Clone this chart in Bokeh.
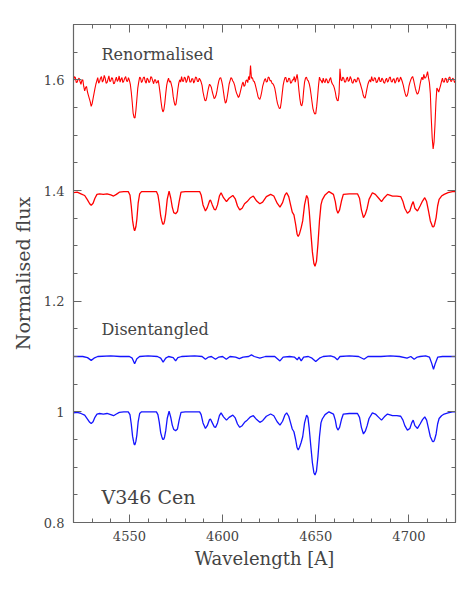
from bokeh.plotting import figure
from bokeh.models import LinearAxis, FixedTicker, CustomJSTickFormatter, Label, Range1d
from bokeh.embed import file_html
from bokeh.resources import INLINE

# ---------------- data ----------------
# renormalised secondary spectrum (offset to 1.6), 0.5 A sampling from 4520 A
top_start, top_step = 4520.0, 0.5
top_flux = [
    1.598, 1.606, 1.604, 1.595, 1.596, 1.601, 1.603, 1.597, 1.592, 1.599,
    1.600, 1.588, 1.580, 1.586, 1.588, 1.578, 1.572, 1.566, 1.560, 1.552,
    1.557, 1.566, 1.575, 1.584, 1.592, 1.598, 1.604, 1.594, 1.597, 1.603,
    1.606, 1.596, 1.599, 1.608, 1.603, 1.594, 1.595, 1.601, 1.607, 1.597,
    1.598, 1.604, 1.602, 1.593, 1.594, 1.600, 1.605, 1.597, 1.600, 1.607,
    1.596, 1.601, 1.604, 1.595, 1.598, 1.603, 1.606, 1.598, 1.597, 1.604,
    1.599, 1.592, 1.578, 1.560, 1.540, 1.532, 1.531, 1.545, 1.565, 1.585,
    1.596, 1.605, 1.603, 1.595, 1.598, 1.604, 1.605, 1.597, 1.594, 1.603,
    1.601, 1.595, 1.597, 1.606, 1.604, 1.598, 1.593, 1.600, 1.600, 1.594,
    1.596, 1.599, 1.588, 1.575, 1.560, 1.548, 1.542, 1.546, 1.558, 1.575,
    1.590, 1.598, 1.603, 1.596, 1.598, 1.592, 1.585, 1.570, 1.560, 1.554,
    1.556, 1.568, 1.583, 1.594, 1.600, 1.596, 1.606, 1.598, 1.597, 1.605,
    1.603, 1.595, 1.599, 1.607, 1.605, 1.596, 1.596, 1.602, 1.602, 1.594,
    1.598, 1.605, 1.604, 1.597, 1.597, 1.603, 1.600, 1.596, 1.590, 1.578,
    1.570, 1.563, 1.562, 1.568, 1.578, 1.586, 1.592, 1.590, 1.586, 1.578,
    1.572, 1.566, 1.568, 1.572, 1.580, 1.590, 1.598, 1.603, 1.604, 1.598,
    1.590, 1.578, 1.566, 1.558, 1.560, 1.569, 1.580, 1.592, 1.598, 1.604,
    1.602, 1.598, 1.595, 1.590, 1.582, 1.576, 1.572, 1.568, 1.571, 1.578,
    1.585, 1.592, 1.596, 1.588, 1.590, 1.598, 1.600, 1.595, 1.606, 1.600,
    1.626, 1.603, 1.604, 1.598, 1.597, 1.592, 1.585, 1.578, 1.570, 1.566,
    1.565, 1.570, 1.578, 1.588, 1.594, 1.600, 1.602, 1.596, 1.597, 1.605,
    1.604, 1.598, 1.599, 1.594, 1.593, 1.590, 1.585, 1.576, 1.565, 1.557,
    1.552, 1.548, 1.549, 1.560, 1.575, 1.590, 1.598, 1.604, 1.604, 1.596,
    1.597, 1.603, 1.602, 1.594, 1.595, 1.600, 1.600, 1.606, 1.596, 1.603,
    1.610, 1.598, 1.580, 1.565, 1.555, 1.553, 1.560, 1.580, 1.596, 1.603,
    1.605, 1.600, 1.598, 1.593, 1.585, 1.573, 1.560, 1.548, 1.542, 1.538,
    1.539, 1.552, 1.570, 1.590, 1.605, 1.600, 1.598, 1.594, 1.603, 1.597,
    1.595, 1.602, 1.600, 1.594, 1.596, 1.601, 1.604, 1.596, 1.592, 1.590,
    1.585, 1.578, 1.568, 1.563, 1.562, 1.575, 1.620, 1.600, 1.598, 1.605,
    1.603, 1.596, 1.596, 1.602, 1.605, 1.597, 1.599, 1.606, 1.602, 1.595,
    1.594, 1.600, 1.601, 1.596, 1.597, 1.604, 1.603, 1.597, 1.592, 1.586,
    1.580, 1.572, 1.568, 1.567, 1.575, 1.584, 1.592, 1.597, 1.600, 1.596,
    1.606, 1.599, 1.598, 1.604, 1.603, 1.595, 1.596, 1.601, 1.605, 1.597,
    1.597, 1.603, 1.601, 1.595, 1.594, 1.600, 1.603, 1.596, 1.598, 1.604,
    1.605, 1.597, 1.596, 1.601, 1.602, 1.594, 1.597, 1.603, 1.604, 1.596,
    1.599, 1.605, 1.601, 1.596, 1.590, 1.582, 1.575, 1.570, 1.571, 1.577,
    1.588, 1.595, 1.600, 1.604, 1.606, 1.600, 1.592, 1.584, 1.578, 1.574,
    1.576, 1.582, 1.592, 1.600, 1.605, 1.600, 1.610, 1.603, 1.604, 1.608,
    1.615, 1.604, 1.595, 1.575, 1.530, 1.495, 1.475, 1.488, 1.520, 1.560,
    1.585, 1.582, 1.578, 1.584, 1.590, 1.597, 1.603, 1.596, 1.596, 1.603,
    1.602, 1.595, 1.597, 1.604, 1.605, 1.597, 1.598, 1.603, 1.601, 1.595,
    1.598,
]
top_wl = [top_start + top_step * i for i in range(len(top_flux))]

# composite (renormalised, offset 1.4) and disentangled primary (at 1.0)
comp_wl = [
    4520, 4522, 4524, 4526, 4527.5, 4528.7, 4529.5, 4530.5, 4531.5, 4532.6,
    4534, 4536, 4538, 4540, 4541.5, 4543, 4544.6, 4547, 4549.4, 4550.3,
    4551, 4551.7, 4552.2, 4552.5, 4552.8, 4553.1, 4553.5, 4554, 4554.7, 4555.5,
    4556.5, 4560,
    4564.5, 4565.3, 4566, 4566.8, 4567.4, 4567.8, 4568.1, 4568.5, 4568.9, 4569.5,
    4570.3, 4571.3,
    4572.2, 4573, 4573.8, 4574.8, 4575.8, 4576.7, 4577.7, 4580, 4585, 4587.7,
    4588.5, 4589.5, 4590.8, 4591.8, 4593, 4593.5, 4594.5, 4595.5, 4596.3, 4597.3,
    4598.3, 4599.2, 4600.5, 4602.1, 4603.5, 4605.5, 4606.8, 4608, 4609.2, 4610.5,
    4611.8, 4613.2, 4615, 4616.5, 4618.3, 4620, 4621.5, 4623.5, 4625.8, 4627.5,
    4629.3, 4630.8, 4632.2, 4633.4, 4634.4, 4635.5, 4636.5, 4637.4, 4638.3, 4639.2,
    4640, 4640.6, 4641.3, 4642.2, 4643, 4644, 4645.1, 4645.8, 4646.5, 4647.3,
    4648.2, 4649, 4649.6, 4650.4, 4651.2, 4652, 4652.8, 4653.5, 4655, 4657.1,
    4659.5, 4660.5, 4661.2, 4661.9, 4662.8, 4663.8, 4664.8, 4668, 4672.4, 4673.5,
    4674.5, 4675.6, 4676.6, 4677.6, 4678.6, 4680.4, 4682, 4683.8, 4685.3, 4686.8,
    4688.5, 4691.2, 4693.5, 4695.6, 4696.8, 4697.8, 4699.2, 4700.5, 4701.5, 4702.3,
    4703.2, 4704.6, 4706, 4707.3, 4708.5, 4709.5, 4710.5, 4711.5, 4712.2, 4712.6,
    4713, 4713.4,
    4713.8, 4714.6, 4715.4, 4716.2, 4717.5, 4718.9, 4721, 4723.4, 4725,
]
comp_flux = [
    1.396, 1.397, 1.394, 1.391, 1.383, 1.376, 1.373, 1.377, 1.386, 1.393,
    1.394, 1.393, 1.394, 1.392, 1.390, 1.393, 1.397, 1.398, 1.398, 1.392,
    1.372, 1.346, 1.335, 1.330, 1.327, 1.330, 1.335, 1.348, 1.377, 1.394,
    1.398, 1.398,
    1.398, 1.392, 1.377, 1.354, 1.345, 1.340, 1.339, 1.340, 1.345, 1.358,
    1.384, 1.399,
    1.386, 1.370, 1.360, 1.358, 1.362, 1.380, 1.397, 1.398, 1.398, 1.398,
    1.392, 1.374, 1.363, 1.369, 1.381, 1.383, 1.374, 1.366, 1.365, 1.374,
    1.390, 1.396, 1.387, 1.380, 1.386, 1.391, 1.385, 1.372, 1.365, 1.368,
    1.376, 1.380, 1.387, 1.390, 1.381, 1.376, 1.379, 1.389, 1.393, 1.390,
    1.377, 1.370, 1.378, 1.391, 1.396, 1.389, 1.374, 1.361, 1.356, 1.339,
    1.321, 1.317, 1.322, 1.333, 1.345, 1.374, 1.391, 1.386, 1.363, 1.327,
    1.289, 1.268, 1.263, 1.272, 1.304, 1.345, 1.374, 1.383, 1.392, 1.398,
    1.393, 1.380, 1.365, 1.359, 1.365, 1.381, 1.393, 1.394, 1.394, 1.386,
    1.365, 1.351, 1.357, 1.368, 1.384, 1.396, 1.393, 1.386, 1.380, 1.387,
    1.393, 1.390, 1.390, 1.389, 1.380, 1.368, 1.359, 1.363, 1.374, 1.380,
    1.368, 1.363, 1.372, 1.381, 1.387, 1.380, 1.363, 1.345, 1.339, 1.335,
    1.334, 1.335,
    1.339, 1.351, 1.372, 1.384, 1.390, 1.393, 1.396, 1.398, 1.398,
]
prim_flux = [
    0.998, 0.999, 0.997, 0.994, 0.987, 0.981, 0.979, 0.982, 0.990, 0.996,
    0.997, 0.996, 0.997, 0.995, 0.993, 0.996, 0.999, 1.000, 1.000, 0.995,
    0.978, 0.956, 0.947, 0.942, 0.940, 0.942, 0.947, 0.958, 0.982, 0.997,
    1.000, 1.000,
    1.000, 0.995, 0.982, 0.962, 0.955, 0.951, 0.950, 0.951, 0.955, 0.966,
    0.988, 1.001,
    0.990, 0.976, 0.968, 0.966, 0.969, 0.985, 0.999, 1.000, 1.000, 1.000,
    0.995, 0.980, 0.970, 0.975, 0.986, 0.987, 0.980, 0.973, 0.972, 0.980,
    0.993, 0.998, 0.991, 0.985, 0.990, 0.994, 0.989, 0.978, 0.972, 0.975,
    0.981, 0.985, 0.991, 0.993, 0.986, 0.981, 0.984, 0.992, 0.996, 0.993,
    0.982, 0.976, 0.983, 0.994, 0.998, 0.992, 0.980, 0.969, 0.964, 0.950,
    0.935, 0.931, 0.936, 0.945, 0.955, 0.980, 0.994, 0.990, 0.970, 0.940,
    0.908, 0.890, 0.886, 0.893, 0.920, 0.955, 0.980, 0.987, 0.995, 1.000,
    0.996, 0.985, 0.972, 0.967, 0.972, 0.986, 0.996, 0.997, 0.997, 0.990,
    0.972, 0.960, 0.965, 0.975, 0.988, 0.998, 0.996, 0.990, 0.985, 0.991,
    0.996, 0.993, 0.993, 0.992, 0.985, 0.975, 0.967, 0.970, 0.980, 0.985,
    0.975, 0.970, 0.978, 0.986, 0.991, 0.985, 0.970, 0.955, 0.950, 0.947,
    0.946, 0.947,
    0.950, 0.960, 0.978, 0.988, 0.993, 0.996, 0.998, 1.000, 1.000,
]

# disentangled secondary (offset to 1.1)
sec_wl = [
    4520, 4525, 4527.5, 4529.5, 4531, 4533, 4540, 4545, 4550, 4551.5,
    4552.8, 4554, 4555.5, 4560, 4565, 4566.8, 4568.1, 4569.5, 4571, 4573.5,
    4574.8, 4576, 4578, 4585, 4589, 4590.8, 4592.5, 4594, 4596.2, 4598,
    4600, 4602, 4604, 4607, 4609, 4611, 4614, 4615.5, 4617, 4620,
    4623, 4628, 4630.8, 4632.5, 4636, 4638.5, 4640.1, 4641, 4642.2, 4643.5,
    4646, 4648, 4650, 4652, 4654, 4658, 4660, 4661.6, 4663, 4668,
    4673, 4675.9, 4678, 4685, 4690, 4695, 4699, 4701, 4702.8, 4704.5,
    4706, 4709, 4711, 4712.2, 4713.2, 4714.2, 4715.5, 4718, 4722, 4725,
]
sec_flux = [
    1.100, 1.100, 1.098, 1.093, 1.097, 1.100, 1.101, 1.100, 1.100, 1.097,
    1.087, 1.096, 1.100, 1.101, 1.100, 1.097, 1.090, 1.097, 1.100, 1.098,
    1.092, 1.098, 1.100, 1.101, 1.100, 1.095, 1.099, 1.100, 1.095, 1.099,
    1.100, 1.095, 1.100, 1.099, 1.096, 1.099, 1.100, 1.103, 1.100, 1.097,
    1.100, 1.100, 1.092, 1.099, 1.100, 1.099, 1.094, 1.099, 1.092, 1.099,
    1.100, 1.097, 1.091, 1.097, 1.100, 1.101, 1.099, 1.094, 1.100, 1.101,
    1.100, 1.095, 1.100, 1.100, 1.101, 1.100, 1.097, 1.100, 1.095, 1.099,
    1.100, 1.101, 1.099, 1.088, 1.077, 1.088, 1.099, 1.100, 1.100, 1.100,
]

x_major = [4550, 4600, 4650, 4700]
x_minor = [4520, 4530, 4540, 4560, 4570, 4580, 4590, 4610, 4620, 4630, 4640,
           4660, 4670, 4680, 4690, 4710, 4720]
y_major = [0.8, 1.0, 1.2, 1.4, 1.6]
y_minor = [0.85, 0.9, 0.95, 1.05, 1.1, 1.15, 1.25, 1.3, 1.35, 1.45, 1.5, 1.55, 1.65]

RED = "#ff0000"
BLUE = "#1414ff"
FONT = "DejaVu Serif"
TXT = "#444444"
AX = "#666666"

p = figure(width=458, height=590, output_backend="svg", toolbar_location=None,
           x_range=Range1d(4520, 4725), y_range=Range1d(0.8, 1.7),
           min_border_left=73, min_border_right=3, min_border_top=24,
           min_border_bottom=68, background_fill_color="white",
           border_fill_color="white")
p.grid.visible = False
p.outline_line_color = AX
p.outline_line_width = 1.2

p.line(top_wl, top_flux, line_color=RED, line_width=1.1)
p.line(comp_wl, comp_flux, line_color=RED, line_width=1.3)
p.line(sec_wl, sec_flux, line_color=BLUE, line_width=1.3)
p.line(comp_wl, prim_flux, line_color=BLUE, line_width=1.3)

fmt = CustomJSTickFormatter(code="return tick.toFixed(1).replace(/\\.0$/, '');")


def style(ax, labels=True):
    ax.axis_line_color = AX
    ax.major_tick_line_color = AX
    ax.minor_tick_line_color = AX
    ax.major_tick_in = 8
    ax.major_tick_out = 0
    ax.minor_tick_in = 4
    ax.minor_tick_out = 0
    ax.major_label_text_font = FONT
    ax.major_label_text_color = TXT
    ax.major_label_text_font_size = "13px"
    ax.axis_label_text_font = FONT
    ax.axis_label_text_font_style = "normal"
    ax.axis_label_text_color = TXT
    ax.axis_label_text_font_size = "18px"
    if not labels:
        ax.major_label_text_color = None
        ax.major_label_text_font_size = "1px"
        ax.major_label_standoff = 0


p.xaxis.ticker = FixedTicker(ticks=x_major, minor_ticks=x_minor)
p.yaxis.ticker = FixedTicker(ticks=y_major, minor_ticks=y_minor)
p.yaxis.formatter = fmt
p.xaxis.axis_label = "Wavelength [A]"
p.yaxis.axis_label = "Normalised flux"
style(p.xaxis[0])
style(p.yaxis[0])
p.yaxis.axis_label_text_font_size = "19px"
p.xaxis.major_label_standoff = 8
p.yaxis.major_label_standoff = 9
p.xaxis.axis_label_standoff = 4
p.yaxis.axis_label_standoff = 7

top_ax = LinearAxis(ticker=FixedTicker(ticks=x_major, minor_ticks=x_minor))
style(top_ax, labels=False)
p.add_layout(top_ax, "above")
right_ax = LinearAxis(ticker=FixedTicker(ticks=y_major, minor_ticks=y_minor))
style(right_ax, labels=False)
p.add_layout(right_ax, "right")

for txt, x, y, size in [("Renormalised", 4535, 1.646, "16px"),
                        ("Disentangled", 4535, 1.148, "16px"),
                        ("V346 Cen", 4535, 0.846, "19px")]:
    p.add_layout(Label(x=x, y=y, text=txt, text_font=FONT, text_font_size=size,
                       text_color=TXT, text_baseline="alphabetic"))

open("out.html", "w").write(file_html(p, INLINE))
